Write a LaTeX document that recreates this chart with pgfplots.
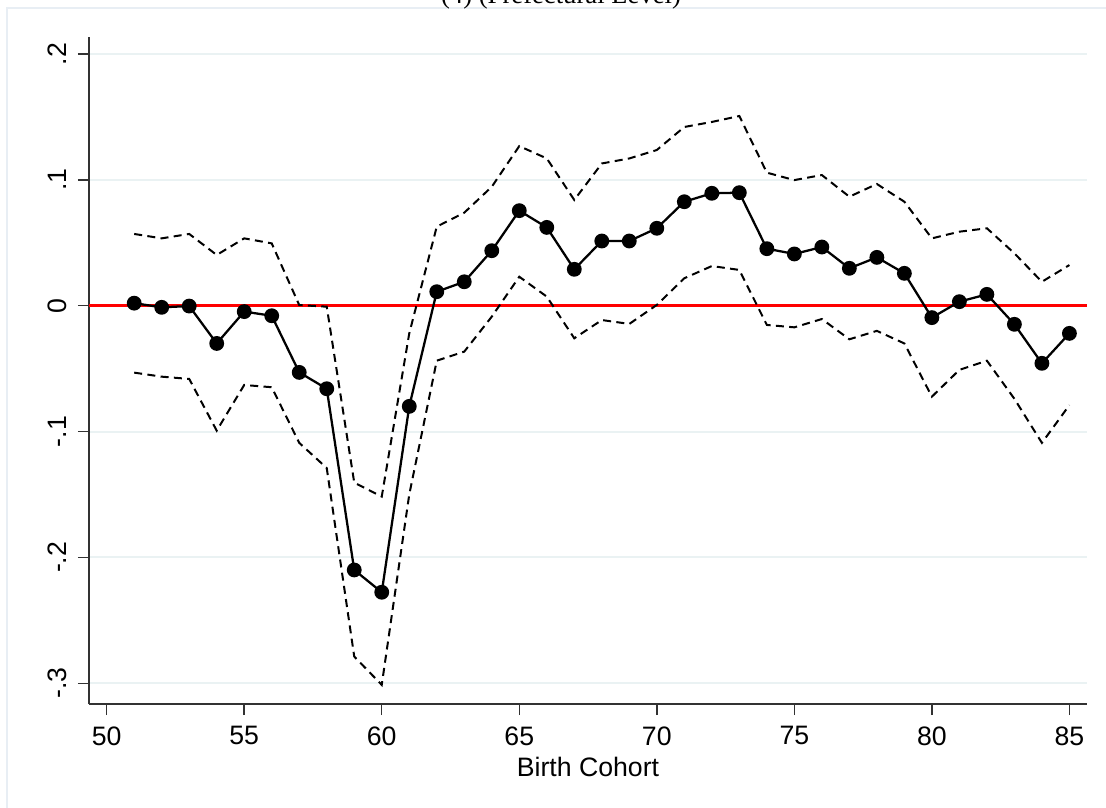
\documentclass[border=0pt]{standalone}
\usepackage{pgfplots}
\pgfplotsset{compat=1.18}
\usepackage{fontspec}
\setmainfont{Liberation Sans}
\newfontfamily\titlefont{Liberation Serif}
\definecolor{gridc}{RGB}{234,242,243}
\definecolor{framec}{RGB}{232,238,244}
\definecolor{axc}{RGB}{50,50,50}
\begin{document}
\begin{tikzpicture}
\path[use as bounding box] (0,0) rectangle (829.5pt,605.25pt);
% outer graph region frame
\draw[framec, line width=1.5pt] (5.6pt,-20pt) -- (5.6pt,599.25pt) -- (900pt,599.25pt);
% title (cut by the page edge, as in the reference)
\node[anchor=base, inner sep=0pt, font=\titlefont\fontsize{20}{24}\selectfont] at (420.75pt,602.5pt) {(4) (Prefectural Level)};
\begin{axis}[
  at={(66.75pt,77.25pt)}, anchor=south west,
  scale only axis, width=748.5pt, height=500.25pt,
  xmin=49.357, xmax=85.64, ymin=-0.3165, ymax=0.2135,
  axis x line*=bottom, axis y line*=left,
  axis line style={axc, line width=1.3pt, -},
  xtick={50,55,...,85},
  ytick={-0.3,-0.2,-0.1,0,0.1,0.2},
  yticklabels={-.3,-.2,-.1,0,.1,.2},
  tick align=outside, major tick length=8.25pt,
  tick style={axc, line width=1.1pt},
  ymajorgrids, grid style={gridc, line width=1.5pt},
  /pgf/number format/assume math mode=true,
  tick label style={font=\fontsize{20}{24}\selectfont},
  xticklabel style={inner sep=0pt, anchor=north, yshift=-8.5pt},
  yticklabel style={inner sep=0pt, rotate=90, anchor=south, yshift=8.25pt},
  every axis x label/.style={at={(axis description cs:0.5,0)}, anchor=base, yshift=-54pt, font=\fontsize{20}{24}\selectfont},
  xlabel={Birth Cohort},
  clip=false,
]
\addplot[red, line width=2pt] coordinates {(49.357,0) (85.64,0)};
% upper CI
\addplot[black, line width=1.5pt, dash pattern=on 6pt off 4pt] coordinates {
(51,0.057) (52,0.0535) (53,0.057) (54,0.0403) (55,0.0535) (56,0.0495) (57,0.0005) (58,-0.0008)
(59,-0.1406) (60,-0.1517) (61,-0.022) (62,0.0628) (63,0.0739) (64,0.0945) (65,0.1268) (66,0.117)
(67,0.084) (68,0.113) (69,0.117) (70,0.1237) (71,0.142) (72,0.146) (73,0.1507) (74,0.1057)
(75,0.0998) (76,0.1038) (77,0.0866) (78,0.0967) (79,0.0826) (80,0.0535) (81,0.0588) (82,0.0615)
(83,0.0416) (84,0.019) (85,0.0323)};
% lower CI
\addplot[black, line width=1.5pt, dash pattern=on 6pt off 4pt] coordinates {
(51,-0.0532) (52,-0.0564) (53,-0.0582) (54,-0.0993) (55,-0.063) (56,-0.0648) (57,-0.109) (58,-0.129)
(59,-0.2788) (60,-0.3013) (61,-0.15) (62,-0.0437) (63,-0.0365) (64,-0.0087) (65,0.023) (66,0.0072)
(67,-0.0259) (68,-0.0114) (69,-0.0145) (70,0.0006) (71,0.0218) (72,0.0315) (73,0.0284) (74,-0.0153)
(75,-0.0172) (76,-0.0106) (77,-0.0267) (78,-0.020) (79,-0.030) (80,-0.0723) (81,-0.051) (82,-0.0437)
(83,-0.074) (84,-0.109) (85,-0.079)};
% point estimates
\addplot[black, line width=1.7pt, mark=*, mark size=4.7pt, mark options={solid, fill=black}] coordinates {
(51,0.002) (52,-0.0013) (53,-0.0003) (54,-0.030) (55,-0.0047) (56,-0.008) (57,-0.053) (58,-0.066)
(59,-0.210) (60,-0.2277) (61,-0.080) (62,0.0111) (63,0.019) (64,0.0437) (65,0.0755) (66,0.0622)
(67,0.0289) (68,0.0514) (69,0.0514) (70,0.0615) (71,0.0826) (72,0.0893) (73,0.0898) (74,0.0453)
(75,0.0411) (76,0.0466) (77,0.0297) (78,0.0384) (79,0.0257) (80,-0.0095) (81,0.0032) (82,0.009)
(83,-0.0148) (84,-0.0458) (85,-0.022)};
\end{axis}
\end{tikzpicture}
\end{document}
